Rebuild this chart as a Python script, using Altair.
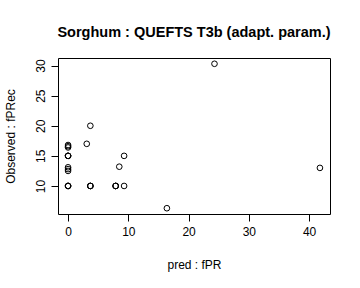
import altair as alt
import pandas as pd

# Values
pred = [0, 0, 0, 0, 0, 0, 0, 0, 0, 0, 0, 0,
        3.7, 3.7, 3.7, 7.9, 7.9, 7.9,
        9.3, 3.1, 3.7, 9.3, 8.5, 16.4, 24.3, 41.8]
obs = [10, 10, 10, 12.5, 12.8, 13.1, 15, 15, 15, 16.4, 16.6, 16.8,
       10, 10, 10, 10, 10, 10,
       10, 17.0, 20.0, 15.0, 13.2, 6.3, 30.3, 13.0]

x_ticks = [0, 10, 20, 30, 40]
y_ticks = [10, 15, 20, 25, 30]

df = pd.DataFrame({"pred": pred, "obs": obs})

FONT = "Liberation Sans"

chart = alt.Chart(df).mark_point(
    shape="circle", filled=False, color="black", size=32, strokeWidth=1, opacity=1
).encode(
    x=alt.X("pred:Q",
            scale=alt.Scale(domain=[-1.67, 43.47], nice=False, zero=False),
            axis=alt.Axis(values=x_ticks, title="pred : fPR", grid=False, domain=False,
                          tickSize=7, tickColor="black", labelPadding=5,
                          labelFont=FONT, labelFontSize=12, labelColor="black",
                          titleFont=FONT, titleFontSize=12, titleFontWeight="normal",
                          titleColor="black", titleY=50, titleBaseline="middle")),
    y=alt.Y("obs:Q",
            scale=alt.Scale(domain=[5.34, 31.26], nice=False, zero=False),
            axis=alt.Axis(values=y_ticks, title="Observed : fPRec", grid=False, domain=False,
                          tickSize=7, tickColor="black", labelPadding=7,
                          labelAngle=270, labelAlign="center", labelBaseline="alphabetic",
                          labelFont=FONT, labelFontSize=12, labelColor="black",
                          titleFont=FONT, titleFontSize=12, titleFontWeight="normal",
                          titleColor="black", titleX=-48, titleY=78, titleAngle=270,
                          titleAlign="center", titleBaseline="middle")),
).properties(
    width=272,
    height=156,
    title=alt.TitleParams("Sorghum : QUEFTS T3b (adapt. param.)", font=FONT, fontSize=14.5,
                          fontWeight="bold", color="black", anchor="middle", frame="group",
                          baseline="alphabetic", offset=7),
    autosize=alt.AutoSizeParams(type="none"),
    padding={"left": 58, "top": 58, "right": 30, "bottom": 74},
).configure_view(stroke="black", strokeWidth=1)

chart.save("out.html", embed_options={"renderer": "svg", "actions": False})
